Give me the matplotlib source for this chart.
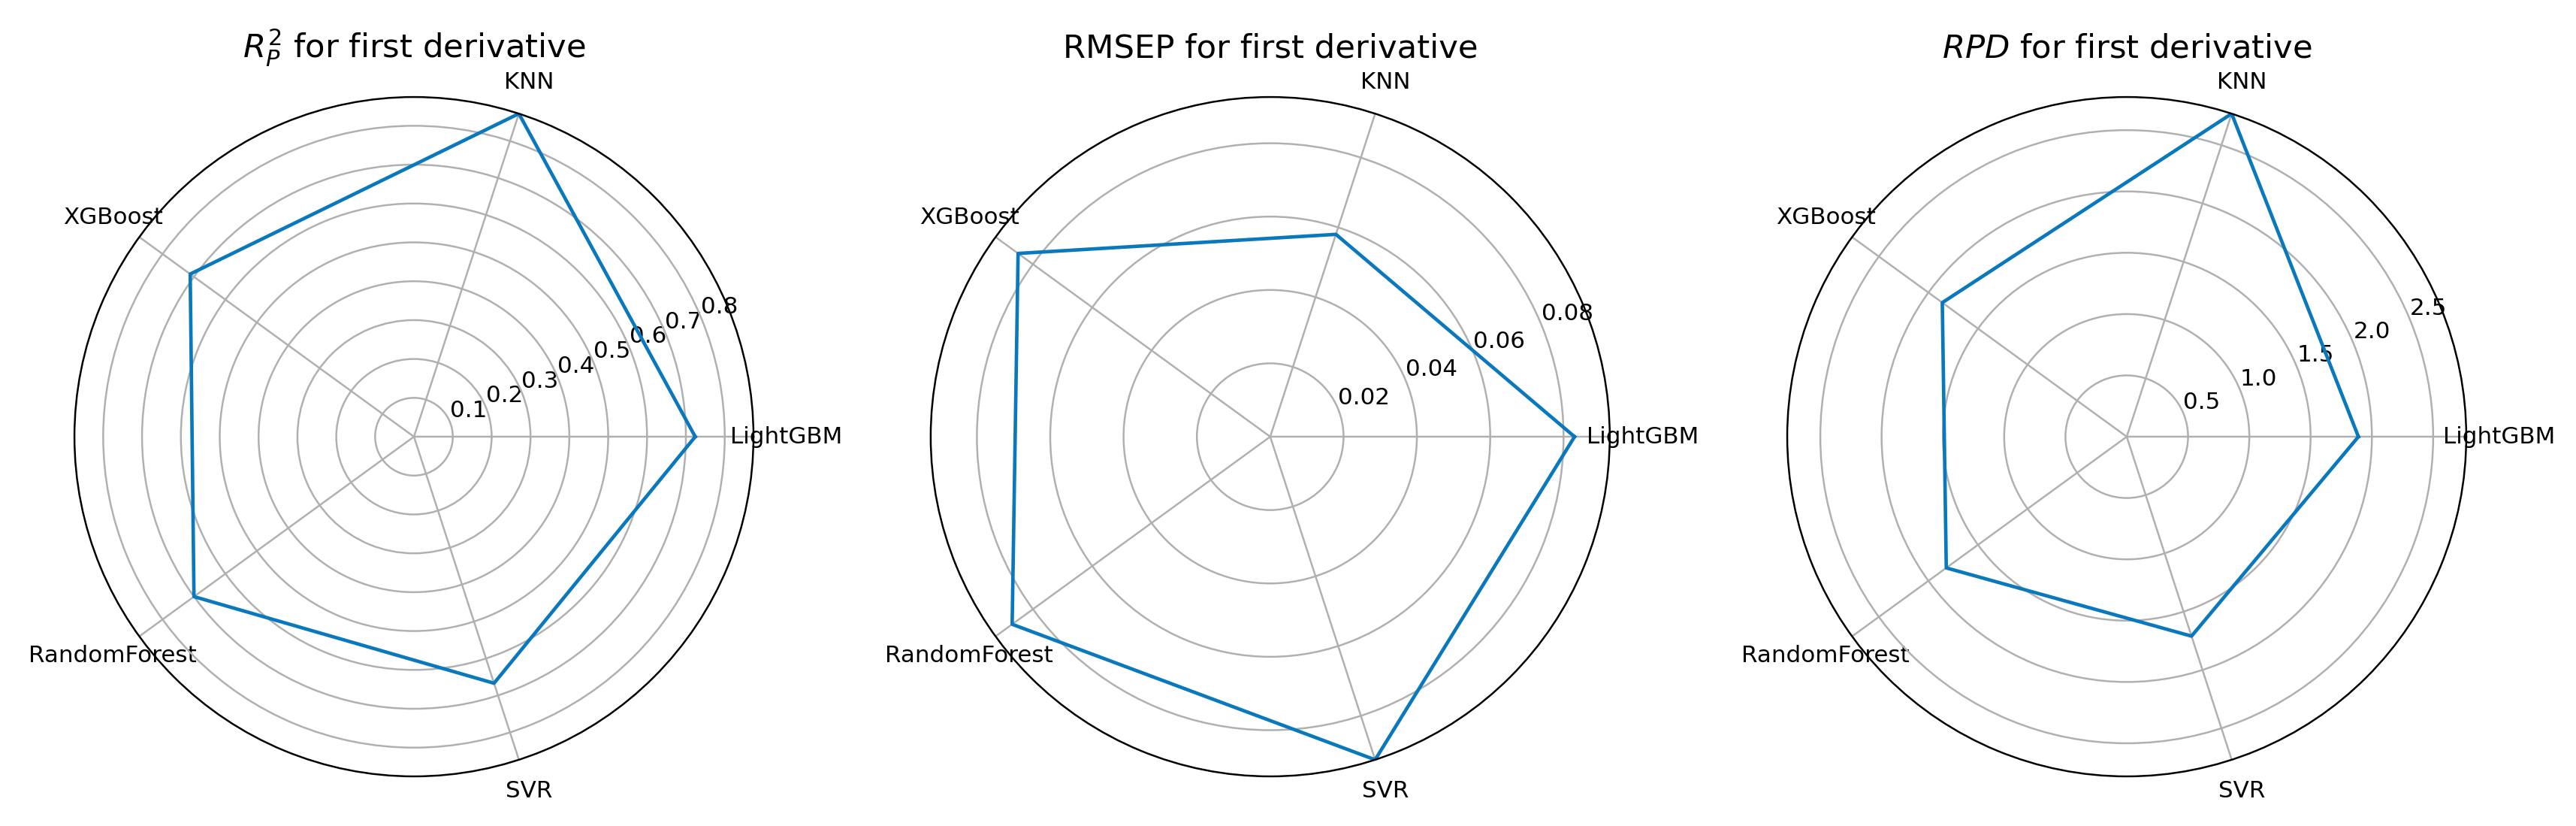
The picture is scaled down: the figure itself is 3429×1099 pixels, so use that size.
import numpy as np
import matplotlib
matplotlib.use('Agg')
import matplotlib.pyplot as plt

# Models around the radar (counter-clockwise from 0 deg)
models = ['LightGBM', 'KNN', 'XGBoost', 'RandomForest', 'SVR']

# Metric values
r2_values = [0.724, 0.874, 0.712, 0.700, 0.667]
rmsep_values = [0.0830, 0.0580, 0.0850, 0.0870, 0.0926]
rpd_values = [1.89, 2.77, 1.86, 1.82, 1.71]

# Radial tick labels
r2_ticks = [0.1, 0.2, 0.3, 0.4, 0.5, 0.6, 0.7, 0.8]
rmsep_ticks = [0.02, 0.04, 0.06, 0.08]
rpd_ticks = [0.5, 1.0, 1.5, 2.0, 2.5]

titles = ['$R_P^2$ for first derivative',
          'RMSEP for first derivative',
          '$RPD$ for first derivative']

line_color = '#0a78bd'
DPI = 223


def radar(ax, values, ticks, title):
    # Close the loop by repeating the first point
    angles = np.linspace(0, 2 * np.pi, len(models), endpoint=False)
    theta = np.concatenate([angles, angles[:1]])
    r = np.concatenate([values, values[:1]])

    ax.plot(theta, r, color=line_color, linewidth=1.5)
    ax.set_thetagrids(np.degrees(angles), models)
    ax.set_ylim(0, max(values))
    ax.set_yticks(ticks)
    ax.set_yticklabels([str(t) for t in ticks])
    ax.set_title(title, fontsize=14)


fig = plt.figure(figsize=(3429 / DPI, 1099 / DPI), dpi=DPI)

centers = [0.1607, 0.4931, 0.8256]
width = 0.2636
height = 0.8226
data = [(r2_values, r2_ticks), (rmsep_values, rmsep_ticks), (rpd_values, rpd_ticks)]

for c, (vals, ticks), title in zip(centers, data, titles):
    ax = fig.add_axes([c - width / 2, 0.060, width, height], projection='polar')
    radar(ax, vals, ticks, title)

fig.savefig('out.png', dpi=DPI)
